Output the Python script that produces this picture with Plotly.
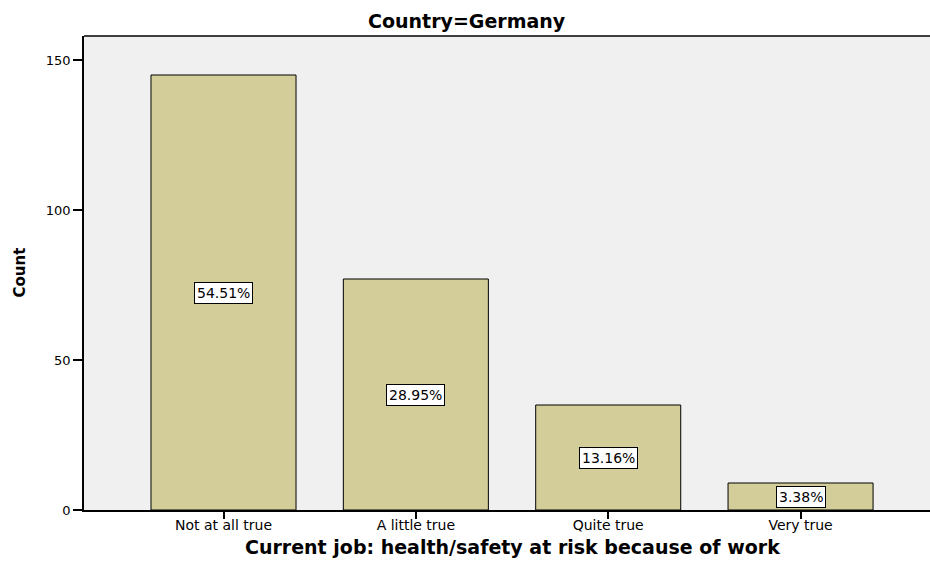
import plotly.graph_objects as go

categories = ["Not at all true", "A little true", "Quite true", "Very true"]
counts = [145, 77, 35, 9]
percents = [54.51, 28.95, 13.16, 3.38]
y_ticks = [0, 50, 100, 150]

FONT = "DejaVu Sans"

fig = go.Figure()
fig.add_trace(go.Bar(
    x=list(range(len(categories))),
    y=counts,
    width=0.754,
    marker=dict(color="#D3CE99", line=dict(color="black", width=1)),
    hoverinfo="skip",
))

annotations = []
for i, (c, p) in enumerate(zip(counts, percents)):
    annotations.append(dict(
        x=i, y=c / 2, xref="x", yref="y",
        text=f"{p:.2f}%", showarrow=False,
        font=dict(family=FONT, size=14, color="black"),
        bgcolor="white", bordercolor="black", borderwidth=1, borderpad=2,
        xanchor="center", yanchor="middle",
    ))

annotations += [
    dict(text="<b>Country=Germany</b>", x=0.4527, y=1.0316, xref="paper", yref="paper",
         showarrow=False, xanchor="center", yanchor="middle",
         font=dict(family=FONT, size=19, color="black")),
    dict(text="<b>Current job: health/safety at risk because of work</b>", x=0.506, y=-0.078,
         xref="paper", yref="paper", showarrow=False, xanchor="center", yanchor="middle",
         font=dict(family=FONT, size=19, color="black")),
    dict(text="<b>Count</b>", x=-0.0757, y=0.501, xref="paper", yref="paper",
         showarrow=False, xanchor="center", yanchor="middle", textangle=-90,
         font=dict(family=FONT, size=15, color="black")),
]

fig.update_layout(
    width=930, height=565,
    margin=dict(l=84, r=0, t=36, b=55),
    paper_bgcolor="white",
    plot_bgcolor="#F0F0F0",
    showlegend=False,
    annotations=annotations,
    shapes=[dict(type="line", xref="paper", yref="paper", x0=0, x1=1, y0=1, y1=1,
                 line=dict(color="black", width=1.5))],
    xaxis=dict(
        range=[-0.7253, 3.673],
        tickmode="array", tickvals=list(range(len(categories))), ticktext=categories,
        showgrid=False, zeroline=False,
        showline=True, linecolor="black", linewidth=1.5,
        ticks="outside", ticklen=7, tickwidth=1.5, tickcolor="black",
        ticklabelstandoff=-6,
        tickfont=dict(family=FONT, size=14, color="black"),
    ),
    yaxis=dict(
        range=[0, 158],
        tickmode="array", tickvals=y_ticks,
        showgrid=False, zeroline=False,
        showline=True, linecolor="black", linewidth=1.5,
        ticks="outside", ticklen=9, tickwidth=1.5, tickcolor="black",
        tickfont=dict(family=FONT, size=13, color="black"),
    ),
)

fig.write_html(
    "out.html",
    config={"displayModeBar": False},
    post_script="document.body.style.margin='0px';document.body.style.overflow='hidden';",
)
